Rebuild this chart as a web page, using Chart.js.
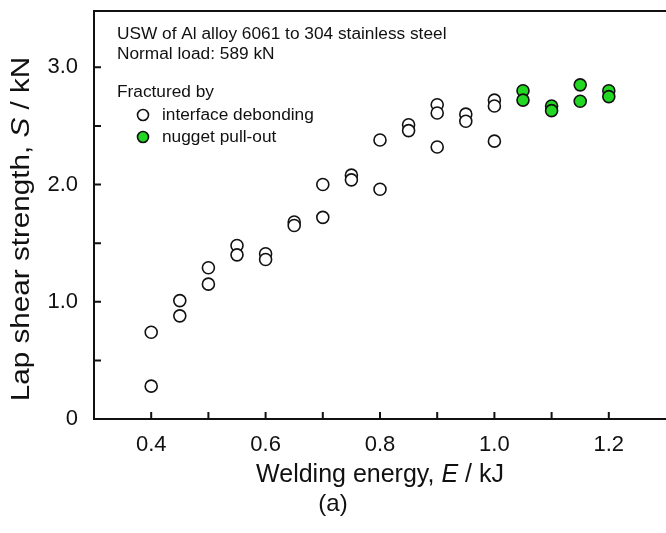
<!DOCTYPE html>
<html>
<head>
<meta charset="utf-8">
<script src="https://cdn.jsdelivr.net/npm/chart.js@4"></script>
<style>
  html, body { margin: 0; padding: 0; background: #fff; }
  #wrap { width: 666px; height: 533px; }
</style>
</head>
<body>
<div id="wrap"><canvas id="miGrafico" width="666" height="533"></canvas></div>
<script>
// Welding energy (kJ) and lap shear strength (kN)
const debondEnergy = [0.4, 0.4, 0.45, 0.45, 0.5, 0.5, 0.55, 0.55, 0.6, 0.6, 0.65, 0.65,
  0.7, 0.7, 0.75, 0.75, 0.8, 0.8, 0.85, 0.85, 0.9, 0.9, 0.9, 0.95, 0.95, 1.0, 1.0, 1.0];
const debondStrength = [0.74, 0.28, 1.01, 0.88, 1.29, 1.15, 1.48, 1.40, 1.41, 1.36, 1.68, 1.65,
  2.00, 1.72, 2.08, 2.04, 2.38, 1.96, 2.51, 2.46, 2.68, 2.61, 2.32, 2.60, 2.54, 2.72, 2.67, 2.37];
const pulloutEnergy = [1.05, 1.05, 1.1, 1.1, 1.15, 1.15, 1.2, 1.2];
const pulloutStrength = [2.80, 2.72, 2.67, 2.63, 2.85, 2.71, 2.80, 2.75];

const xTickLabels = ['0.4', '0.6', '0.8', '1.0', '1.2'];
const yTickLabels = ['0', '1.0', '2.0', '3.0'];

const seriesNames = ['interface debonding', 'nugget pull-out'];
const noteLines = ['USW of Al alloy 6061 to 304 stainless steel', 'Normal load: 589 kN'];

const FONT = '"Liberation Sans", Arial, sans-serif';
const INK = '#111';
const GREEN = '#22d822';
const R = 6;

function pts(xs, ys) {
  return xs.map((x, i) => ({ x: x, y: ys[i] }));
}

// texto con partes en cursiva, centrado en (0,0)
function mixedText(ctx, parts, size) {
  let total = 0;
  const widths = parts.map(p => {
    ctx.font = (p[1] ? 'italic ' : '') + size + 'px ' + FONT;
    const w = ctx.measureText(p[0]).width;
    total += w;
    return w;
  });
  let x = -total / 2;
  parts.forEach((p, i) => {
    ctx.font = (p[1] ? 'italic ' : '') + size + 'px ' + FONT;
    ctx.fillText(p[0], x, 0);
    x += widths[i];
  });
  return total;
}

const decor = {
  id: 'decor',
  afterDraw(chart) {
    const ctx = chart.ctx;
    const a = chart.chartArea;
    const xs = chart.scales.x, ys = chart.scales.y;
    ctx.save();
    ctx.strokeStyle = INK;
    ctx.lineWidth = 2;
    // marco superior
    ctx.beginPath();
    ctx.moveTo(a.left - 1, a.top);
    ctx.lineTo(a.right, a.top);
    ctx.stroke();
    // ticks hacia dentro
    ctx.beginPath();
    xs.ticks.forEach(t => {
      const k = Math.round(t.value * 10);
      if (Math.abs(t.value * 10 - k) > 1e-6 || k <= 3 || k >= 13) return;
      const px = xs.getPixelForValue(t.value);
      ctx.moveTo(px, a.bottom);
      ctx.lineTo(px, a.bottom - 7);
    });
    ys.ticks.forEach(t => {
      const k = Math.round(t.value * 2);
      if (Math.abs(t.value * 2 - k) > 1e-6 || k <= 0) return;
      const py = ys.getPixelForValue(t.value);
      ctx.moveTo(a.left, py);
      ctx.lineTo(a.left + 7, py);
    });
    ctx.stroke();

    ctx.fillStyle = INK;
    ctx.textBaseline = 'middle';
    ctx.textAlign = 'left';
    ctx.font = '17.3px ' + FONT;
    ctx.fillText(noteLines[0], 117, 34);
    ctx.fillText(noteLines[1], 117, 54);
    ctx.fillText('Fractured by', 117, 92);
    ctx.fillText(seriesNames[0], 162, 115);
    ctx.fillText(seriesNames[1], 162, 137);
    ctx.lineWidth = 1.6;
    [[115, '#fff'], [137, GREEN]].forEach(([y, c]) => {
      ctx.beginPath();
      ctx.arc(143, y, R - 0.5, 0, Math.PI * 2);
      ctx.fillStyle = c;
      ctx.fill();
      ctx.stroke();
    });

    // títulos de ejes
    ctx.fillStyle = INK;
    ctx.textAlign = 'left';
    ctx.textBaseline = 'alphabetic';
    ctx.save();
    ctx.translate(380, 482);
    mixedText(ctx, [['Welding energy, ', false], ['E', true], [' / kJ', false]], 25);
    ctx.restore();

    ctx.save();
    ctx.translate(29, 229);
    ctx.rotate(-Math.PI / 2);
    ctx.scale(1.14, 1);
    mixedText(ctx, [['Lap shear strength, ', false], ['S', true], [' / kN', false]], 26);
    ctx.restore();

    ctx.textAlign = 'center';
    ctx.textBaseline = 'middle';
    ctx.font = '24px ' + FONT;
    ctx.fillText('(a)', 333, 504);
    ctx.restore();
  }
};

document.addEventListener('DOMContentLoaded', function () {
  const ctx = document.getElementById('miGrafico').getContext('2d');
  new Chart(ctx, {
    type: 'scatter',
    data: {
      datasets: [{
        label: seriesNames[1],
        data: pts(pulloutEnergy, pulloutStrength),
        backgroundColor: GREEN,
        borderColor: INK,
        borderWidth: 1.6,
        pointRadius: R,
      }, {
        label: seriesNames[0],
        data: pts(debondEnergy, debondStrength),
        backgroundColor: '#fff',
        borderColor: INK,
        borderWidth: 1.6,
        pointRadius: R,
      }]
    },
    options: {
      responsive: false,
      animation: false,
      layout: { autoPadding: false, padding: { top: 11, right: -2, left: 0, bottom: 0 } },
      plugins: {
        legend: { display: false },
        tooltip: { enabled: false },
      },
      scales: {
        x: {
          type: 'linear',
          min: 0.3,
          max: 1.3,
          afterFit: s => { s.height = 114; s.paddingLeft = 0; s.paddingRight = 0; },
          grid: { display: false },
          border: { display: true, color: INK, width: 2 },
          ticks: {
            stepSize: 0.1,
            autoSkip: false,
            maxRotation: 0,
            padding: 5,
            color: INK,
            font: { family: FONT, size: 22 },
            callback: v => {
              const k = Math.round(v * 10);
              const lbl = (k / 10).toFixed(1);
              return xTickLabels.includes(lbl) && Math.abs(v * 10 - k) < 1e-6 ? lbl : '';
            }
          }
        },
        y: {
          min: 0,
          max: 3.48,
          afterFit: s => { s.width = 94; s.paddingTop = 0; s.paddingBottom = 0; },
          grid: { display: false },
          border: { display: true, color: INK, width: 2 },
          ticks: {
            stepSize: 0.5,
            autoSkip: false,
            padding: 8,
            color: INK,
            font: { family: FONT, size: 22 },
            callback: v => {
              const lbl = v === 0 ? '0' : v.toFixed(1);
              return Number.isInteger(v) && yTickLabels.includes(lbl) ? lbl : '';
            }
          }
        }
      }
    },
    plugins: [decor]
  });
});
</script>
</body>
</html>
